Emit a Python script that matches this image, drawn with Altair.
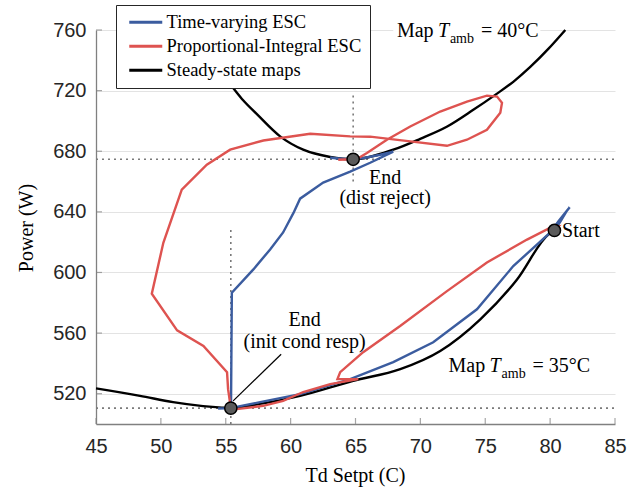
import altair as alt
import pandas as pd

# ---------------- data ----------------
# Steady-state map, T_amb = 40 C
map40_x = [54.56, 55.49, 56.34, 57.42, 59.19, 60.97, 63.05, 64.82, 67.91, 69.99, 72.07, 74.08, 75.77, 77.16, 78.47, 79.86, 81.17]
map40_y = [731.7, 722.5, 713.6, 704.3, 689.8, 681.0, 676.2, 674.7, 681.0, 688.2, 696.3, 707.3, 717.2, 725.8, 735.6, 747.5, 760.0]
# Steady-state map, T_amb = 35 C
map35_x = [45.0, 48.39, 50.94, 53.25, 54.70, 55.39, 57.88, 60.73, 64.82, 68.45, 71.53, 74.62, 77.45, 79.86, 80.33]
map35_y = [523.5, 518.6, 514.4, 511.8, 510.8, 510.5, 513.6, 518.6, 528.5, 536.2, 548.2, 569.1, 595.4, 625.0, 627.7]
# Time-varying ESC trajectory
tv_x = [80.33, 80.79, 81.25, 81.51, 81.18, 80.63, 80.02, 77.16, 74.36, 70.99, 67.91, 64.59, 60.73, 57.65, 56.11,
        55.39, 54.41, 55.39, 55.41, 55.47, 57.13, 58.42, 59.42, 60.22, 60.73, 62.51, 64.59, 66.13, 67.91, 66.91,
        65.75, 64.82, 63.82, 63.05, 64.21, 64.82]
tv_y = [627.7, 633.6, 640.2, 643.0, 639.5, 633.6, 626.4, 604.2, 575.7, 553.9, 540.8, 529.6, 519.7, 514.4, 511.8,
        510.5, 510.2, 510.5, 516.4, 586.7, 602.0, 615.2, 626.4, 639.3, 648.7, 659.3, 666.5, 672.4, 679.7, 677.7,
        675.7, 674.7, 675.1, 675.7, 674.9, 674.7]
# Proportional-Integral ESC trajectory
pi_x = [80.33, 80.63, 80.02, 78.22, 75.13, 72.05, 68.44, 65.59, 63.82, 63.61, 65.21, 63.05, 60.97, 59.42, 57.88,
        55.85, 55.39, 55.18, 55.10, 53.28, 51.25, 49.30, 50.19, 51.61, 53.54, 55.34, 57.90, 61.51, 64.59, 66.13,
        69.22, 72.05, 73.59, 75.13, 76.16, 76.29, 75.91, 75.13, 73.59, 71.53, 69.22, 67.42, 65.88, 65.11, 64.82,
        63.67, 64.82]
pi_y = [627.7, 630.3, 629.5, 621.7, 606.6, 587.7, 564.7, 547.4, 534.2, 529.6, 529.6, 526.3, 521.1, 515.3, 512.0,
        509.8, 510.5, 523.0, 534.2, 551.5, 561.8, 586.0, 619.6, 654.7, 671.1, 681.0, 687.1, 691.5, 689.8, 689.6,
        686.5, 683.6, 687.6, 694.2, 705.4, 711.9, 716.1, 716.7, 712.8, 706.2, 696.3, 687.6, 678.8, 674.9, 674.7,
        674.4, 674.7]

# Marked points: start, end (init cond resp), end (dist reject)
marker_x = [80.33, 55.39, 64.82]
marker_y = [627.7, 510.5, 674.7]

# Dotted guide lines (x, y, x2, y2)
guide_x = [45.0, 45.0, 64.82, 55.39]
guide_y = [674.7, 510.5, 660.0, 500.0]
guide_x2 = [85.0, 85.0, 64.82, 55.39]
guide_y2 = [674.7, 510.5, 718.5, 630.5]

# Annotation pointer for "End (init cond resp)"
pointer_x = [55.57]
pointer_y = [515.3]
pointer_x2 = [59.27]
pointer_y2 = [546.0]

# Text labels
label_text = ["End", "(dist reject)", "End", "(init cond resp)"]
label_x = [67.29, 67.29, 61.08, 61.08]
label_y = [658.6, 645.4, 564.7, 550.4]
start_x = [80.92]
start_y = [623.5]
start_text = ["Start"]
map_x = [68.19, 72.17]
map_y = [755.7, 534.0]
map_temp = ["= 40°C", "= 35°C"]
# white backdrop behind the upper map label
bg_x, bg_x2, bg_y, bg_y2 = [67.91], [79.25], [753.5], [766.0]

series_names = ["Time-varying ESC", "Proportional-Integral ESC", "Steady-state maps"]
series_colors = ["#3B5C9F", "#DE5350", "#000000"]
x_ticks = [45, 50, 55, 60, 65, 70, 75, 80, 85]
y_ticks = [520, 560, 600, 640, 680, 720, 760]

# ---------------- tables ----------------
rows = []
def add(xs, ys, series, seg):
    for i, (a, b) in enumerate(zip(xs, ys)):
        rows.append(dict(x=a, y=b, series=series, seg=seg, order=i))

add(map35_x, map35_y, "Steady-state maps", "map35")
add(map40_x, map40_y, "Steady-state maps", "map40")
add(tv_x, tv_y, "Time-varying ESC", "tv")
add(pi_x, pi_y, "Proportional-Integral ESC", "pi")
lines_df = pd.DataFrame(rows)

markers_df = pd.DataFrame({"x": marker_x, "y": marker_y})
guides_df = pd.DataFrame({"x": guide_x, "y": guide_y, "x2": guide_x2, "y2": guide_y2})
pointer_df = pd.DataFrame({"x": pointer_x, "y": pointer_y, "x2": pointer_x2, "y2": pointer_y2})
labels_df = pd.DataFrame({"x": label_x, "y": label_y, "t": label_text})
start_df = pd.DataFrame({"x": start_x, "y": start_y, "t": start_text})
map_df = pd.DataFrame({"x": map_x, "y": map_y, "temp": map_temp})
bg_df = pd.DataFrame({"x": bg_x, "x2": bg_x2, "y": bg_y, "y2": bg_y2})
xt_df = pd.DataFrame({"x": x_ticks})
yt_df = pd.DataFrame({"y": y_ticks})

SERIF = "Liberation Serif"
SANS = "Liberation Sans"

xscale = alt.Scale(domain=[45, 85], nice=False, zero=False)
yscale = alt.Scale(domain=[500, 760], nice=False, zero=False)
xaxis = alt.Axis(values=x_ticks, format="d", grid=False, tickSize=0, labelFlush=False,
                 labelFont=SANS, labelFontSize=20, labelColor="#262626", labelPadding=12,
                 domainColor="#808080", domainWidth=1.3,
                 title="Td Setpt (C)", titleFont=SERIF, titleFontSize=20, titleFontWeight="normal",
                 titleColor="#000000", titleX=259, titleY=51, titleBaseline="middle")
yaxis = alt.Axis(values=y_ticks, format="d", grid=True, gridColor="#e3e3e3", gridWidth=1, tickSize=0,
                 labelFont=SANS, labelFontSize=20, labelColor="#262626", labelPadding=10, labelFlush=False,
                 domainColor="#808080", domainWidth=1.3,
                 title="Power (W)", titleFont=SERIF, titleFontSize=20, titleFontWeight="normal",
                 titleColor="#000000", titleX=-70, titleY=197.5, titleBaseline="middle", titleAngle=270)

X = alt.X("x:Q", scale=xscale, axis=xaxis)
Y = alt.Y("y:Q", scale=yscale, axis=yaxis)

# legend swatch: a 33 px horizontal stroke drawn as a custom symbol path
color = alt.Color("series:N",
                  scale=alt.Scale(domain=series_names, range=series_colors),
                  legend=alt.Legend(title=None, orient="none", legendX=20, legendY=-25,
                                    fillColor="white", strokeColor="#262626",
                                    padding=8, rowPadding=5, labelOffset=24, labelLimit=400,
                                    symbolType="M-0.8,0H5.8", symbolStrokeWidth=3, symbolSize=100,
                                    symbolFillColor="transparent",
                                    labelFont=SERIF, labelFontSize=18.5, labelColor="#000000",
                                    zindex=1))

bg = alt.Chart(bg_df).mark_rect(color="white").encode(x=X, x2="x2:Q", y=Y, y2="y2:Q")

guides = alt.Chart(guides_df).mark_rule(color="#7a7a7a", strokeDash=[2, 4], strokeWidth=1.6).encode(
    x=X, y=Y, x2="x2:Q", y2="y2:Q")

base_lines = alt.Chart(lines_df)
black = base_lines.transform_filter(alt.datum.series == "Steady-state maps").mark_line(
    strokeWidth=2.4, interpolate="monotone").encode(
    x=X, y=Y, color=color, detail="seg:N", order="order:Q")
blue = base_lines.transform_filter(alt.datum.series == "Time-varying ESC").mark_line(strokeWidth=2.4).encode(
    x=X, y=Y, color=color, order="order:Q")
red = base_lines.transform_filter(alt.datum.series == "Proportional-Integral ESC").mark_line(strokeWidth=2.4).encode(
    x=X, y=Y, color=color, order="order:Q")

pointer = alt.Chart(pointer_df).mark_rule(color="black", strokeWidth=1.2).encode(
    x=X, y=Y, x2="x2:Q", y2="y2:Q")

markers = alt.Chart(markers_df).mark_point(filled=True, size=150, fill="#5a5a5a", stroke="#000000",
                                           strokeWidth=1.5, opacity=1).encode(x=X, y=Y)

labels = alt.Chart(labels_df).mark_text(font=SERIF, fontSize=20, color="black", align="center",
                                        baseline="alphabetic").encode(x=X, y=Y, text="t:N")
start = alt.Chart(start_df).mark_text(font=SERIF, fontSize=20, color="black", align="left",
                                      baseline="alphabetic").encode(x=X, y=Y, text="t:N")

map_base = alt.Chart(map_df)
map_word = map_base.mark_text(font=SERIF, fontSize=20, color="black", align="left",
                              baseline="alphabetic").encode(x=X, y=Y, text=alt.value("Map"))
map_T = map_base.mark_text(font=SERIF, fontSize=20, fontStyle="italic", color="black", align="left",
                           baseline="alphabetic", dx=41).encode(x=X, y=Y, text=alt.value("T"))
map_amb = map_base.mark_text(font=SERIF, fontSize=14, color="black", align="left",
                             baseline="alphabetic", dx=53, dy=6).encode(x=X, y=Y, text=alt.value("amb"))
map_eq = map_base.mark_text(font=SERIF, fontSize=20, color="black", align="left",
                            baseline="alphabetic", dx=84).encode(x=X, y=Y, text="temp:N")

xticks_in = alt.Chart(xt_df).mark_tick(orient="vertical", size=6, thickness=1.2, color="#808080",
                                       yOffset=-3).encode(x=X, y=alt.datum(500))
yticks_in = alt.Chart(yt_df).mark_tick(orient="horizontal", size=6, thickness=1.2, color="#808080",
                                       xOffset=3).encode(y=Y, x=alt.datum(45))

chart = alt.layer(
    bg, guides, xticks_in, yticks_in, black, blue, red, pointer, markers,
    labels, start, map_word, map_T, map_amb, map_eq
).properties(
    width=519, height=394,
    autosize=alt.AutoSizeParams(type="none"),
    padding={"left": 96, "top": 30, "right": 26, "bottom": 65},
    background="white",
).configure_view(stroke=None)

chart.save("out.html", embed_options={"renderer": "svg", "actions": False})
